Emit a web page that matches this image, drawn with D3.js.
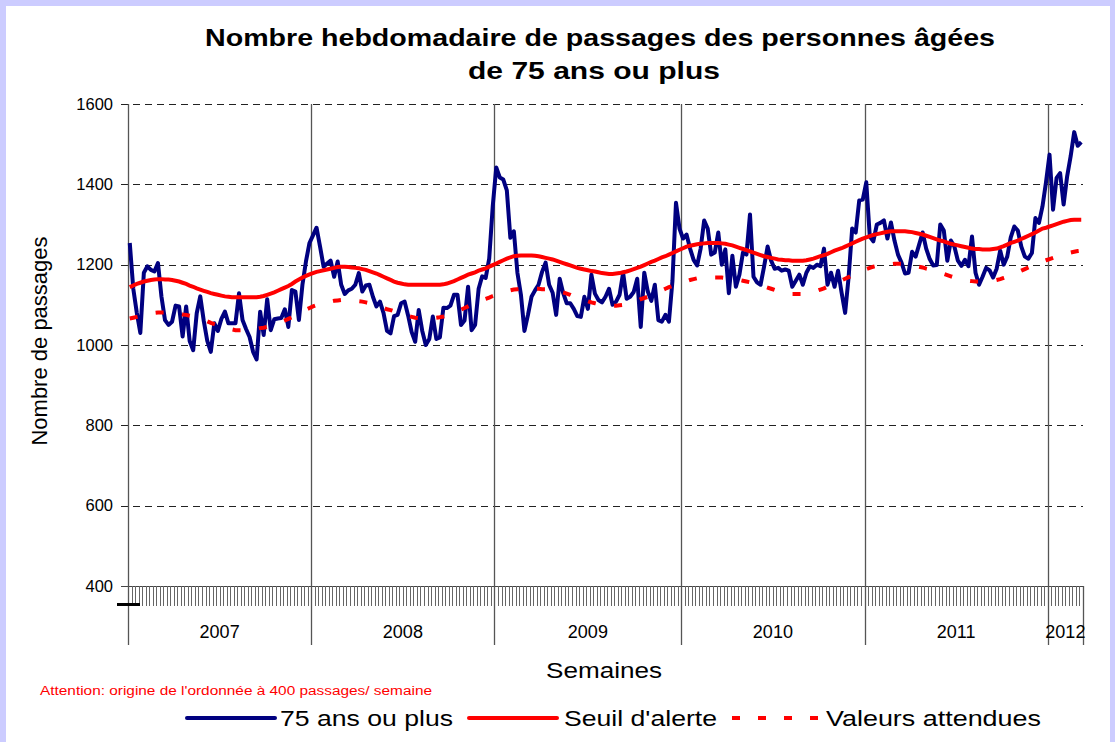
<!DOCTYPE html>
<html>
<head>
<meta charset="utf-8">
<script src="https://cdn.jsdelivr.net/npm/d3@7"></script>
<style>
  body { margin: 0; background: #ccccff; }
  svg { display: block; font-family: "Liberation Sans", Arial, sans-serif; }
</style>
</head>
<body>
<div id="chart"></div>
<script>
// data: one value per week, 2007 -> week 10 of 2012
var years = ["2007", "2008", "2009", "2010", "2011", "2012"];
var weeksPerYear = [52, 52, 53, 52, 52, 10];
var yTicks = [400, 600, 800, 1000, 1200, 1400, 1600];

// 75 ans ou plus
var values75 = [
  // 2007
  1254,1140,1080,1030,1180,1196,1187,1183,1204,1120,
  1062,1050,1058,1098,1096,1021,1096,1010,987,1079,
  1121,1060,1010,983,1054,1035,1065,1083,1054,1054,
  1054,1129,1062,1040,1020,983,964,1083,1025,1114,
  1037,1064,1066,1067,1089,1045,1137,1133,1062,1150,
  1208,1254,
  // 2008
  1273,1292,1245,1195,1203,1210,1170,1208,1150,1127,
  1136,1140,1150,1179,1133,1148,1150,1120,1096,1108,
  1080,1035,1029,1072,1075,1104,1108,1073,1032,1008,
  1087,1035,1000,1015,1071,1015,1019,1093,1092,1098,
  1125,1125,1050,1061,1145,1037,1050,1140,1171,1167,
  1215,1345,
  // 2009
  1442,1417,1412,1385,1267,1283,1180,1125,1035,1075,
  1120,1136,1150,1182,1205,1150,1130,1075,1165,1129,
  1104,1104,1090,1072,1070,1120,1090,1175,1128,1112,
  1106,1120,1140,1100,1108,1125,1180,1115,1120,1132,
  1165,1045,1180,1133,1110,1150,1062,1058,1075,1058,
  1160,1354,1290,
  // 2010
  1265,1275,1240,1212,1198,1240,1310,1290,1225,1230,
  1280,1200,1238,1129,1222,1145,1175,1230,1225,1325,
  1170,1156,1150,1195,1245,1210,1190,1192,1185,1188,
  1185,1145,1160,1175,1150,1180,1196,1192,1200,1196,
  1240,1150,1180,1145,1185,1130,1080,1170,1290,1280,
  1360,1362,
  // 2011
  1405,1270,1258,1300,1304,1310,1265,1305,1260,1225,
  1205,1178,1180,1232,1220,1250,1280,1240,1214,1198,
  1199,1300,1285,1210,1260,1245,1210,1197,1212,1196,
  1270,1180,1150,1170,1192,1186,1168,1190,1235,1200,
  1220,1268,1295,1285,1245,1220,1215,1229,1316,1304,
  1345,1405,
  // 2012
  1474,1337,1416,1428,1350,1420,1470,1530,1496,1505
];

// seuil d'alerte
var seuil = [
  1144,1148,1152,1155,1158,1160,1162,1163,1164,1164,
  1163,1163,1162,1160,1158,1155,1152,1148,1145,1141,
  1138,1135,1132,1129,1127,1125,1123,1121,1120,1119,
  1119,1119,1119,1119,1119,1119,1119,1120,1122,1125,
  1128,1131,1135,1139,1143,1147,1152,1158,1163,1168,
  1172,1176,1179,1182,1184,1186,1188,1190,1192,1194,
  1195,1195,1194,1193,1192,1191,1189,1187,1184,1181,
  1178,1174,1170,1166,1162,1158,1155,1153,1151,1150,
  1150,1150,1150,1150,1150,1150,1150,1150,1150,1151,
  1153,1156,1159,1163,1167,1171,1175,1178,1181,1185,
  1188,1191,1195,1199,1203,1207,1211,1215,1218,1221,
  1222,1223,1223,1223,1223,1222,1221,1219,1217,1215,
  1213,1210,1207,1204,1201,1198,1195,1192,1190,1188,
  1186,1184,1183,1181,1179,1178,1177,1177,1178,1179,
  1181,1183,1186,1189,1192,1195,1199,1203,1207,1210,
  1214,1218,1221,1225,1229,1233,1237,1241,1245,1247,
  1249,1251,1252,1253,1254,1254,1254,1254,1253,1252,
  1250,1248,1245,1242,1239,1236,1233,1230,1227,1224,
  1221,1219,1217,1215,1213,1212,1211,1211,1210,1210,
  1210,1210,1211,1213,1215,1218,1221,1224,1227,1231,
  1235,1238,1241,1245,1249,1253,1257,1261,1265,1268,
  1271,1274,1276,1278,1280,1282,1283,1283,1283,1283,
  1283,1282,1281,1279,1277,1275,1272,1269,1266,1263,
  1260,1258,1255,1252,1250,1248,1246,1244,1242,1240,
  1239,1239,1238,1238,1238,1239,1240,1243,1246,1250,
  1254,1257,1260,1264,1268,1272,1276,1280,1285,1290,
  1292,1295,1298,1301,1304,1307,1309,1311,1312,1312,1312
];

// valeurs attendues
var attendues = [
  1066,1068,1070,1072,1074,1076,1078,1080,1081,1081,
  1081,1080,1080,1079,1078,1076,1075,1073,1071,1068,
  1065,1062,1059,1055,1052,1049,1046,1043,1041,1039,
  1037,1037,1037,1037,1038,1039,1040,1042,1043,1045,
  1047,1050,1053,1057,1061,1065,1069,1073,1078,1083,
  1088,1092,1096,1099,1102,1104,1106,1108,1110,1111,
  1112,1112,1112,1111,1110,1109,1108,1106,1104,1101,
  1098,1095,1092,1089,1087,1084,1081,1078,1075,1072,
  1070,1068,1067,1066,1066,1066,1067,1068,1069,1071,
  1074,1077,1080,1084,1088,1092,1096,1100,1104,1108,
  1112,1115,1118,1122,1125,1128,1131,1134,1136,1138,
  1139,1140,1140,1140,1140,1140,1140,1139,1139,1138,
  1137,1135,1133,1131,1128,1125,1121,1118,1115,1112,
  1109,1106,1104,1102,1100,1099,1098,1098,1098,1099,
  1100,1102,1104,1107,1110,1114,1117,1120,1124,1128,
  1132,1136,1140,1144,1147,1150,1153,1156,1159,1162,
  1164,1166,1167,1168,1168,1168,1168,1168,1168,1167,
  1166,1165,1164,1162,1160,1158,1156,1154,1152,1149,
  1146,1143,1140,1137,1134,1132,1130,1128,1127,1127,
  1127,1127,1128,1130,1132,1135,1138,1141,1145,1149,
  1153,1157,1161,1165,1169,1173,1177,1181,1185,1189,
  1192,1195,1197,1198,1199,1200,1201,1202,1202,1202,
  1202,1201,1199,1197,1195,1193,1190,1188,1186,1183,
  1180,1177,1174,1171,1168,1166,1164,1162,1160,1159,
  1158,1158,1158,1158,1159,1160,1162,1164,1167,1170,
  1173,1177,1181,1185,1189,1193,1197,1201,1205,1208,
  1211,1214,1217,1220,1223,1226,1228,1230,1232,1234,1235
];

var W = 1115, H = 742;
// plot box (note: "top" is reserved by the browser, so use a margin object)
var plot = { left: 128, right: 1083, top: 104, bottom: 586 };

var svg = d3.select("#chart").append("svg")
  .attr("width", W)
  .attr("height", H);

// lavender frame + white page
svg.append("rect").attr("width", W).attr("height", H).attr("fill", "#ccccff");
svg.append("rect").attr("x", 6).attr("y", 6).attr("width", W - 11).attr("height", H - 6).attr("fill", "#fff");

// week boundaries per year
var bounds = [0];
weeksPerYear.forEach(function (n, i) { bounds.push(bounds[i] + n); });
var totalWeeks = bounds[bounds.length - 1];

var x = d3.scaleLinear().domain([0, totalWeeks]).range([plot.left, plot.right]);
var y = d3.scaleLinear().domain([400, 1600]).range([plot.bottom, plot.top]);

// title
svg.append("text")
  .attr("x", 600).attr("y", 46)
  .attr("text-anchor", "middle")
  .attr("font-size", 23).attr("font-weight", "bold")
  .attr("textLength", 790).attr("lengthAdjust", "spacingAndGlyphs")
  .text("Nombre hebdomadaire de passages des personnes âgées");
svg.append("text")
  .attr("x", 594).attr("y", 79)
  .attr("text-anchor", "middle")
  .attr("font-size", 23).attr("font-weight", "bold")
  .attr("textLength", 252).attr("lengthAdjust", "spacingAndGlyphs")
  .text("de 75 ans ou plus");

// horizontal dashed gridlines
svg.append("g")
  .selectAll("line")
  .data(yTicks.filter(function (d) { return d > 400; }))
  .enter().append("line")
  .attr("x1", plot.left - 7).attr("x2", plot.right)
  .attr("y1", function (d) { return Math.round(y(d)) + 0.5; })
  .attr("y2", function (d) { return Math.round(y(d)) + 0.5; })
  .attr("stroke", "#222")
  .attr("stroke-width", 1)
  .attr("stroke-dasharray", "7,5");

// y axis labels
var yAxis = svg.append("g")
  .attr("transform", "translate(" + plot.left + ",0)")
  .call(d3.axisLeft(y).tickValues(yTicks).tickSize(0).tickPadding(15).tickFormat(d3.format("d")));
yAxis.select(".domain").remove();
yAxis.selectAll("text")
  .attr("font-family", "Liberation Sans, Arial, sans-serif")
  .attr("font-size", 16.5)
  .attr("fill", "#000");

// x axis line
svg.append("line")
  .attr("x1", plot.left - 7).attr("x2", plot.right)
  .attr("y1", plot.bottom + 0.5).attr("y2", plot.bottom + 0.5)
  .attr("stroke", "#444").attr("stroke-width", 1);

// weekly minor ticks
svg.append("g")
  .selectAll("line")
  .data(d3.range(totalWeeks + 1))
  .enter().append("line")
  .attr("x1", function (d) { return Math.round(x(d)) + 0.5; })
  .attr("x2", function (d) { return Math.round(x(d)) + 0.5; })
  .attr("y1", plot.bottom).attr("y2", plot.bottom + 20)
  .attr("stroke", "#666").attr("stroke-width", 1);

// year separators
svg.append("g")
  .selectAll("line")
  .data(bounds)
  .enter().append("line")
  .attr("x1", function (d) { return Math.round(x(d)) + 0.5; })
  .attr("x2", function (d) { return Math.round(x(d)) + 0.5; })
  .attr("y1", function (d) { return d === totalWeeks ? plot.bottom : plot.top; })
  .attr("y2", 645)
  .attr("stroke", "#555").attr("stroke-width", 1.3);

// year labels
svg.append("g")
  .selectAll("text")
  .data(years)
  .enter().append("text")
  .attr("x", function (d, i) { return x((bounds[i] + bounds[i + 1]) / 2); })
  .attr("y", 638)
  .attr("text-anchor", "middle")
  .attr("font-size", 18)
  .text(function (d) { return d; });

// small black mark under the axis start
svg.append("rect")
  .attr("x", 117).attr("y", 603).attr("width", 23).attr("height", 3)
  .attr("fill", "#000");

// series
var line = d3.line()
  .x(function (d, i) { return x(i + 0.5); })
  .y(function (d) { return y(d); });

svg.append("path")
  .datum(values75)
  .attr("d", line)
  .attr("fill", "none")
  .attr("stroke", "#000080")
  .attr("stroke-width", 4)
  .attr("stroke-linejoin", "round");

svg.append("path")
  .datum(seuil)
  .attr("d", line)
  .attr("fill", "none")
  .attr("stroke", "#ff0000")
  .attr("stroke-width", 4);

svg.append("path")
  .datum(attendues)
  .attr("d", line)
  .attr("fill", "none")
  .attr("stroke", "#ff0000")
  .attr("stroke-width", 4)
  .attr("stroke-dasharray", "8,18.5");

// axis titles
svg.append("text")
  .attr("transform", "translate(47,341) rotate(-90)")
  .attr("text-anchor", "middle")
  .attr("font-size", 22)
  .text("Nombre de passages");

svg.append("text")
  .attr("x", 546).attr("y", 678)
  .attr("font-size", 22)
  .attr("textLength", 116).attr("lengthAdjust", "spacingAndGlyphs")
  .text("Semaines");

// warning note
svg.append("text")
  .attr("x", 40).attr("y", 695)
  .attr("font-size", 12)
  .attr("fill", "#ff0000")
  .attr("textLength", 392).attr("lengthAdjust", "spacingAndGlyphs")
  .text("Attention: origine de l'ordonnée à 400 passages/ semaine");

// legend
var legend = [
  { name: "75 ans ou plus", color: "#000080", dash: null, x1: 187, x2: 275, tx: 280, tw: 173 },
  { name: "Seuil d'alerte", color: "#ff0000", dash: null, x1: 469, x2: 557, tx: 564, tw: 153 },
  { name: "Valeurs attendues", color: "#ff0000", dash: "8,18", x1: 732, x2: 820, tx: 826, tw: 215 }
];
var lg = svg.append("g").selectAll("g").data(legend).enter().append("g");
lg.append("line")
  .attr("x1", function (d) { return d.x1; })
  .attr("x2", function (d) { return d.x2; })
  .attr("y1", 718).attr("y2", 718)
  .attr("stroke", function (d) { return d.color; })
  .attr("stroke-width", 4)
  .attr("stroke-linecap", function (d) { return d.dash ? "butt" : "round"; })
  .attr("stroke-dasharray", function (d) { return d.dash; });
lg.append("text")
  .attr("x", function (d) { return d.tx; })
  .attr("y", 726)
  .attr("font-size", 22)
  .attr("textLength", function (d) { return d.tw; })
  .attr("lengthAdjust", "spacingAndGlyphs")
  .text(function (d) { return d.name; });
</script>
</body>
</html>
